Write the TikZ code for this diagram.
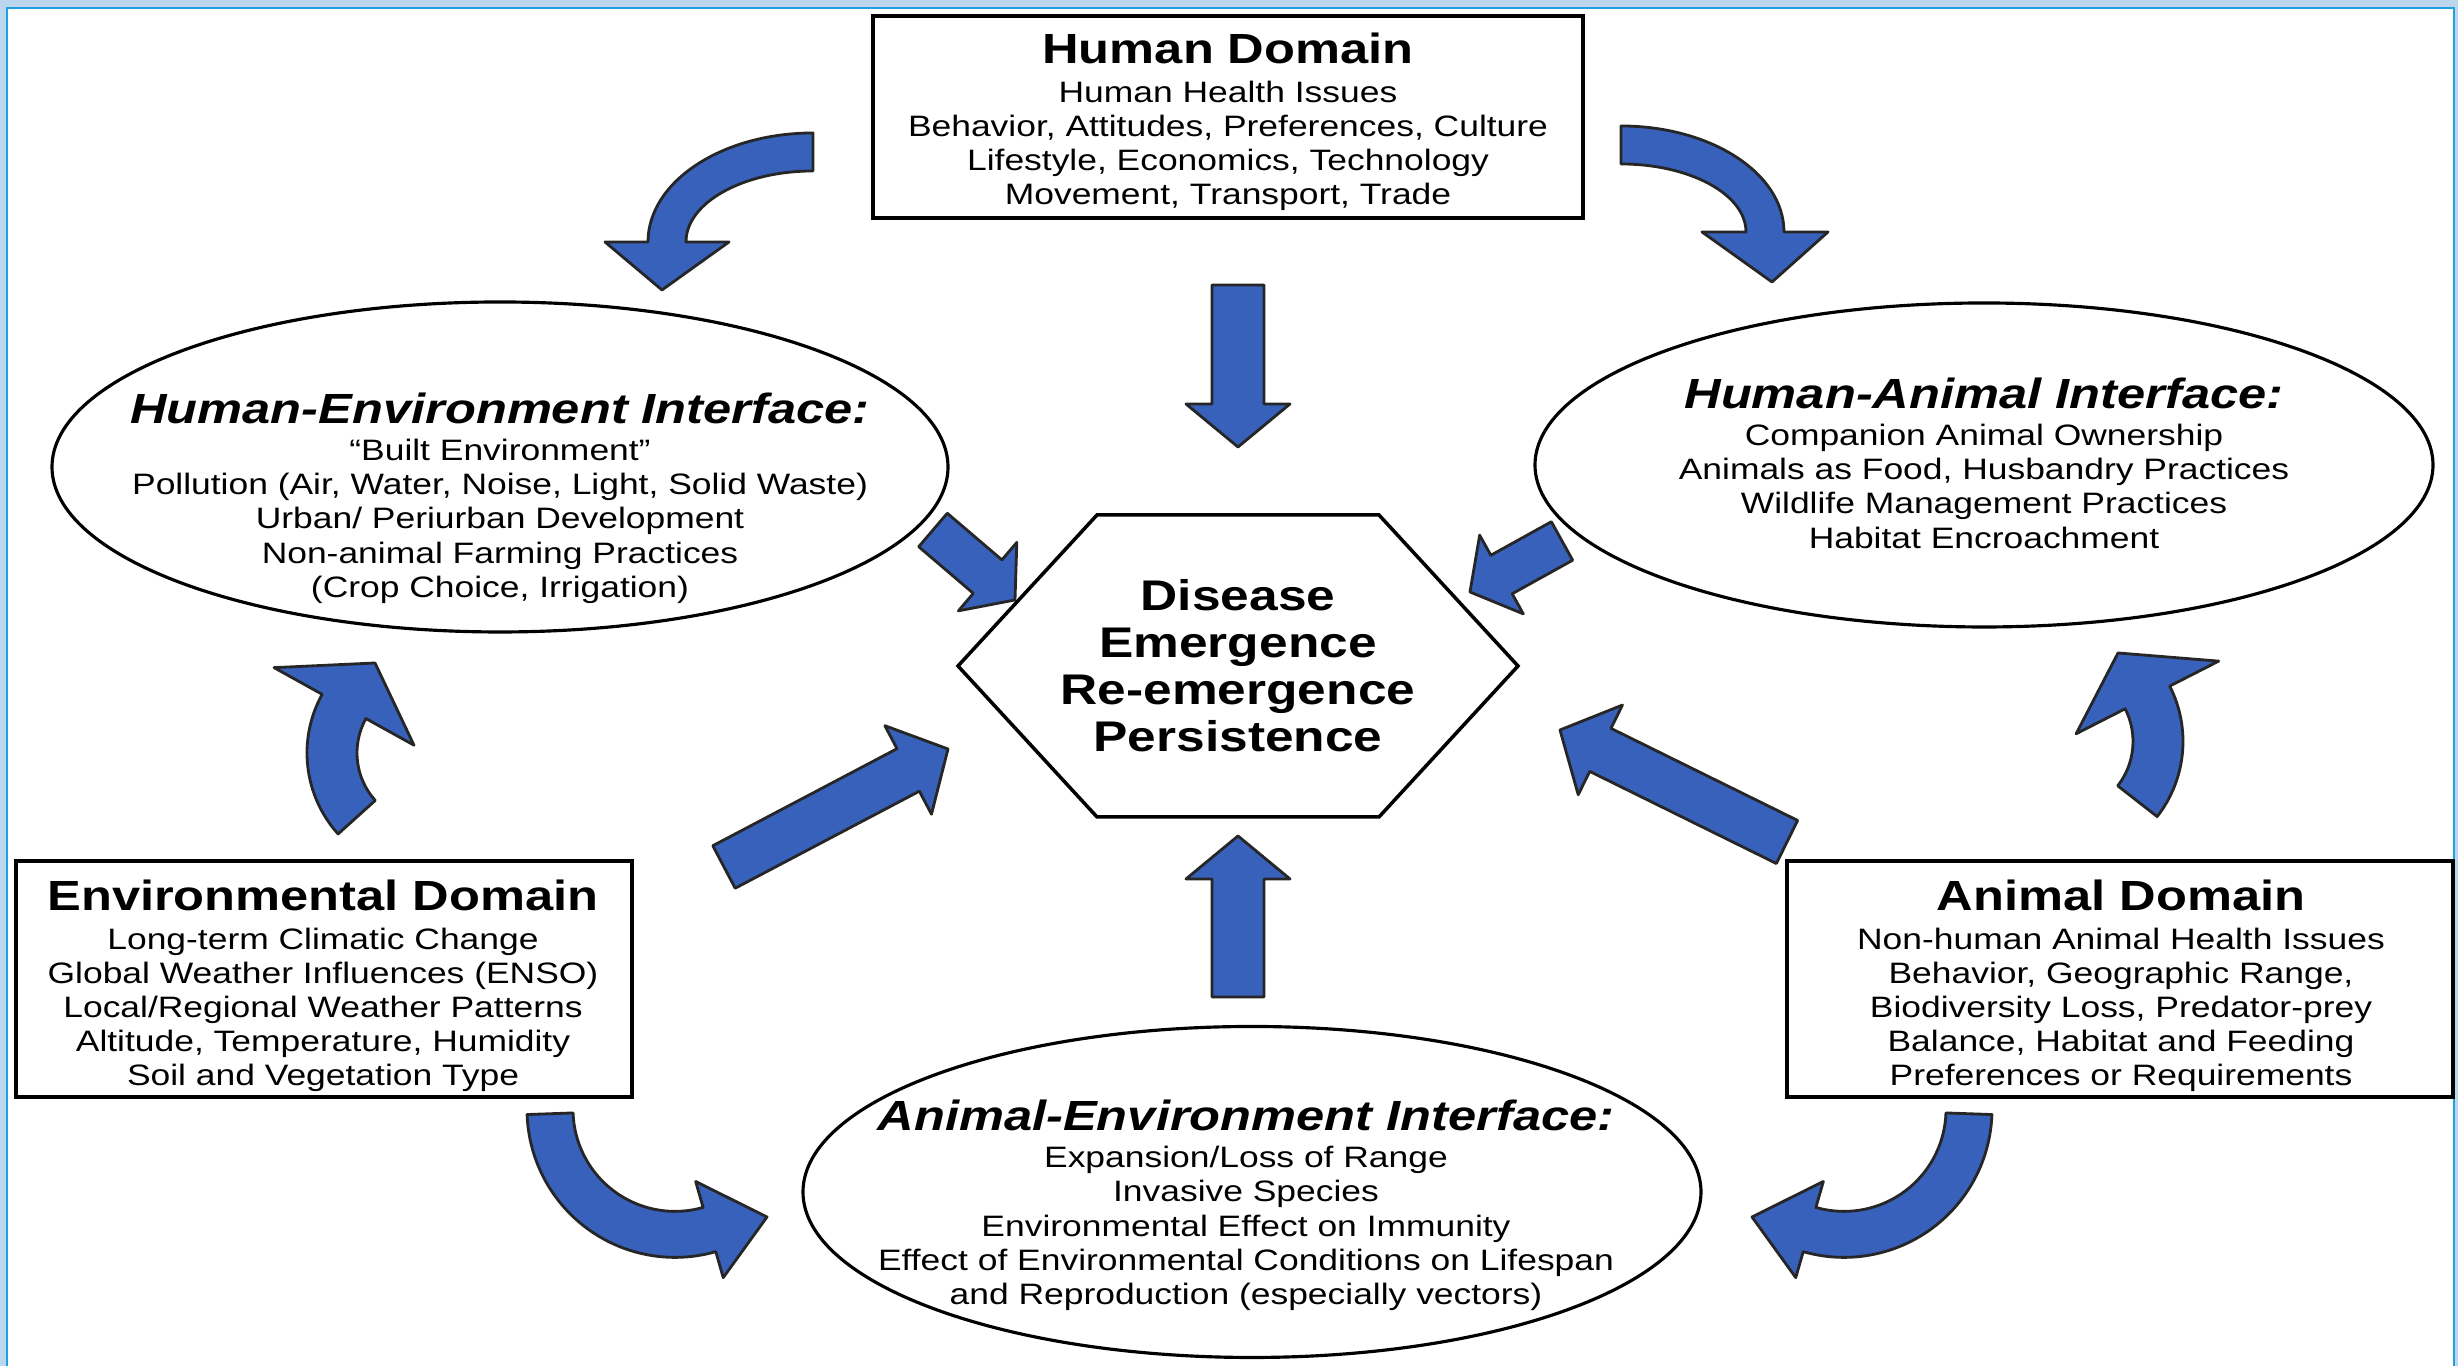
\documentclass[tikz,border=0pt]{standalone}
\usepackage{fontspec}
\setmainfont{Liberation Sans}
\newfontfamily\widesans[FakeStretch=1.2]{Liberation Sans}
\usetikzlibrary{calc, shapes.geometric}

\definecolor{arrowblue}{RGB}{56,97,187}
\definecolor{framefill}{RGB}{188,214,238}
\definecolor{frameline}{RGB}{30,160,225}

\newcommand{\domtitle}{\bfseries\fontsize{12}{14}\selectfont}
\newcommand{\ifacetitle}{\bfseries\itshape\fontsize{12}{14}\selectfont}

% straight block arrow: tail, tip, shaft half width, head half width, head length
\newcommand{\blockarrow}[5]{%
  \coordinate (ba-base) at ($(#2)!#5!(#1)$);
  \filldraw[bluearrow] ($(#1)!#3!90:(#2)$) -- ($(ba-base)!#3!90:(#2)$)
    -- ($(ba-base)!#4!90:(#2)$) -- (#2) -- ($(ba-base)!#4!-90:(#2)$)
    -- ($(ba-base)!#3!-90:(#2)$) -- ($(#1)!#3!-90:(#2)$) -- cycle;}

% bent block arrow: centre, x radius, y radius, start, end, shaft half width, head half width, tip
\newcommand{\bentarrow}[8]{%
  \pgfmathsetmacro\bxin{#2-#6}\pgfmathsetmacro\byin{#3-#6}%
  \pgfmathsetmacro\bxout{#2+#6}\pgfmathsetmacro\byout{#3+#6}%
  \pgfmathsetmacro\bxhi{#2-#7}\pgfmathsetmacro\byhi{#3-#7}%
  \pgfmathsetmacro\bxho{#2+#7}\pgfmathsetmacro\byho{#3+#7}%
  \filldraw[bluearrow] ($(#1)+(#4:\bxin\space and \byin)$)
    arc[start angle=#4, end angle=#5, x radius=\bxin, y radius=\byin]
    -- ($(#1)+(#5:\bxhi\space and \byhi)$) -- (#8) -- ($(#1)+(#5:\bxho\space and \byho)$)
    -- ($(#1)+(#5:\bxout\space and \byout)$)
    arc[start angle=#5, end angle=#4, x radius=\bxout, y radius=\byout] -- cycle;}

\begin{document}
\begin{tikzpicture}[
    domainbox/.style={draw, line width=1pt, inner sep=0pt},
    iface/.style={draw, ellipse, line width=0.9pt, inner sep=0pt},
    bodytext/.style={align=center, inner sep=0pt, font=\widesans\fontsize{8.4}{9.7}\selectfont},
    bluearrow/.style={fill=arrowblue, draw=black!85, line width=0.8pt, line join=round}
  ]
  \useasboundingbox (0,0) rectangle (24.58,13.66);
  % frame
  \fill[framefill] (0,0) rectangle (24.58,13.66);
  \filldraw[fill=white, draw=frameline, line width=0.6pt] (0.07,-0.1) rectangle (24.54,13.58);

  % domains
  \node[domainbox, minimum width=7.10cm, minimum height=2.02cm] (hd) at (12.28,12.49) {};
  \node[bodytext] (hd-text) at ($(hd)+(0,-0.05)$)
    {{\domtitle Human Domain}\\[1.2pt]
     Human Health Issues\\
     Behavior, Attitudes, Preferences, Culture\\
     Lifestyle, Economics, Technology\\
     Movement, Transport, Trade};
  \node[domainbox, minimum width=6.16cm, minimum height=2.36cm] (ed) at (3.24,3.87) {};
  \node[bodytext] (ed-text) at ($(ed)+(-0.01,-0.07)$)
    {{\domtitle Environmental Domain}\\[1.2pt]
     Long-term Climatic Change\\
     Global Weather Influences (ENSO)\\
     Local/Regional Weather Patterns\\
     Altitude, Temperature, Humidity\\
     Soil and Vegetation Type};
  \node[domainbox, minimum width=6.66cm, minimum height=2.36cm] (ad) at (21.20,3.87) {};
  \node[bodytext] (ad-text) at ($(ad)+(0.01,-0.07)$)
    {{\domtitle Animal Domain}\\[1.2pt]
     Non-human Animal Health Issues\\
     Behavior, Geographic Range,\\
     Biodiversity Loss, Predator-prey\\
     Balance, Habitat and Feeding\\
     Preferences or Requirements};

  % interfaces
  \node[iface, minimum width=8.96cm, minimum height=3.30cm] (he) at (5.00,8.99) {};
  \node[bodytext] (he-text) at ($(he)+(0,-0.31)$)
    {{\ifacetitle Human-Environment Interface:}\\[1pt]
     “Built Environment”\\
     Pollution (Air, Water, Noise, Light, Solid Waste)\\
     Urban/ Periurban Development\\
     Non-animal Farming Practices\\
     (Crop Choice, Irrigation)};
  \node[iface, minimum width=8.98cm, minimum height=3.24cm] (ha) at (19.84,9.01) {};
  \node[bodytext] (ha-text) at ($(ha)+(0,0.02)$)
    {{\ifacetitle Human-Animal Interface:}\\[1pt]
     Companion Animal Ownership\\
     Animals as Food, Husbandry Practices\\
     Wildlife Management Practices\\
     Habitat Encroachment};
  \node[iface, minimum width=8.98cm, minimum height=3.31cm] (ae) at (12.52,1.74) {};
  \node[bodytext] (ae-text) at ($(ae)+(-0.06,-0.13)$)
    {{\ifacetitle Animal-Environment Interface:}\\[1pt]
     Expansion/Loss of Range\\
     Invasive Species\\
     Environmental Effect on Immunity\\
     Effect of Environmental Conditions on Lifespan\\
     and Reproduction (especially vectors)};

  % centre
  \node[align=center, inner sep=0pt, font=\widesans\bfseries\fontsize{12.2}{13.4}\selectfont] (dis) at (12.38,7.00)
    {Disease\\Emergence\\Re-emergence\\Persistence};
  \draw[line width=1pt, line join=miter] ($(dis)+(-2.80,0)$) -- ($(dis)+(-1.41,1.51)$) -- ($(dis)+(1.41,1.51)$)
    -- ($(dis)+(2.80,0)$) -- ($(dis)+(1.41,-1.51)$) -- ($(dis)+(-1.41,-1.51)$) -- cycle;

  % straight arrows into the centre
  \coordinate (dn-tail) at (12.38,10.81);  \coordinate (dn-tip) at (12.38,9.19);
  \coordinate (up-tail) at (12.38,3.69);   \coordinate (up-tip) at (12.38,5.30);
  \coordinate (ul-tail) at (9.33,8.36);    \coordinate (ul-tip) at (10.15,7.66);
  \coordinate (ur-tail) at (15.62,8.25);   \coordinate (ur-tip) at (14.70,7.74);
  \coordinate (ll-tail) at (7.24,4.99);    \coordinate (ll-tip) at (9.48,6.17);
  \coordinate (lr-tail) at (17.87,5.24);   \coordinate (lr-tip) at (15.60,6.36);
  \blockarrow{dn-tail}{dn-tip}{0.26cm}{0.52cm}{0.43cm}
  \blockarrow{up-tail}{up-tip}{0.26cm}{0.52cm}{0.43cm}
  \blockarrow{ul-tail}{ul-tip}{0.22cm}{0.45cm}{0.36cm}
  \blockarrow{ur-tail}{ur-tip}{0.22cm}{0.45cm}{0.36cm}
  \blockarrow{ll-tail}{ll-tip}{0.24cm}{0.50cm}{0.45cm}
  \blockarrow{lr-tail}{lr-tip}{0.24cm}{0.50cm}{0.45cm}

  % bent arrows round the outside
  \coordinate (tl-c) at (8.13,11.24);   \coordinate (tl-tip) at (6.62,10.76);
  \coordinate (tr-c) at (16.21,11.34);  \coordinate (tr-tip) at (17.72,10.84);
  \coordinate (lm-c) at (4.28,6.13);    \coordinate (lm-tip) at (3.75,7.03);
  \coordinate (rm-c) at (20.61,6.245);  \coordinate (rm-tip) at (21.18,7.13);
  \coordinate (bl-c) at (6.75,2.566);   \coordinate (bl-tip) at (7.67,1.49);
  \coordinate (br-c) at (18.44,2.566);  \coordinate (br-tip) at (17.52,1.49);
  \bentarrow{tl-c}{1.46}{0.90}{90}{180}{0.19}{0.62}{tl-tip}
  \bentarrow{tr-c}{1.44}{0.87}{90}{0}{0.19}{0.63}{tr-tip}
  \bentarrow{lm-c}{0.96}{0.96}{222}{151}{0.25}{0.80}{lm-tip}
  \bentarrow{rm-c}{0.97}{0.97}{-38}{27}{0.25}{0.80}{rm-tip}
  \bentarrow{bl-c}{1.25}{1.25}{182}{286}{0.23}{0.50}{bl-tip}
  \bentarrow{br-c}{1.25}{1.25}{358}{254}{0.23}{0.50}{br-tip}
\end{tikzpicture}
\end{document}
